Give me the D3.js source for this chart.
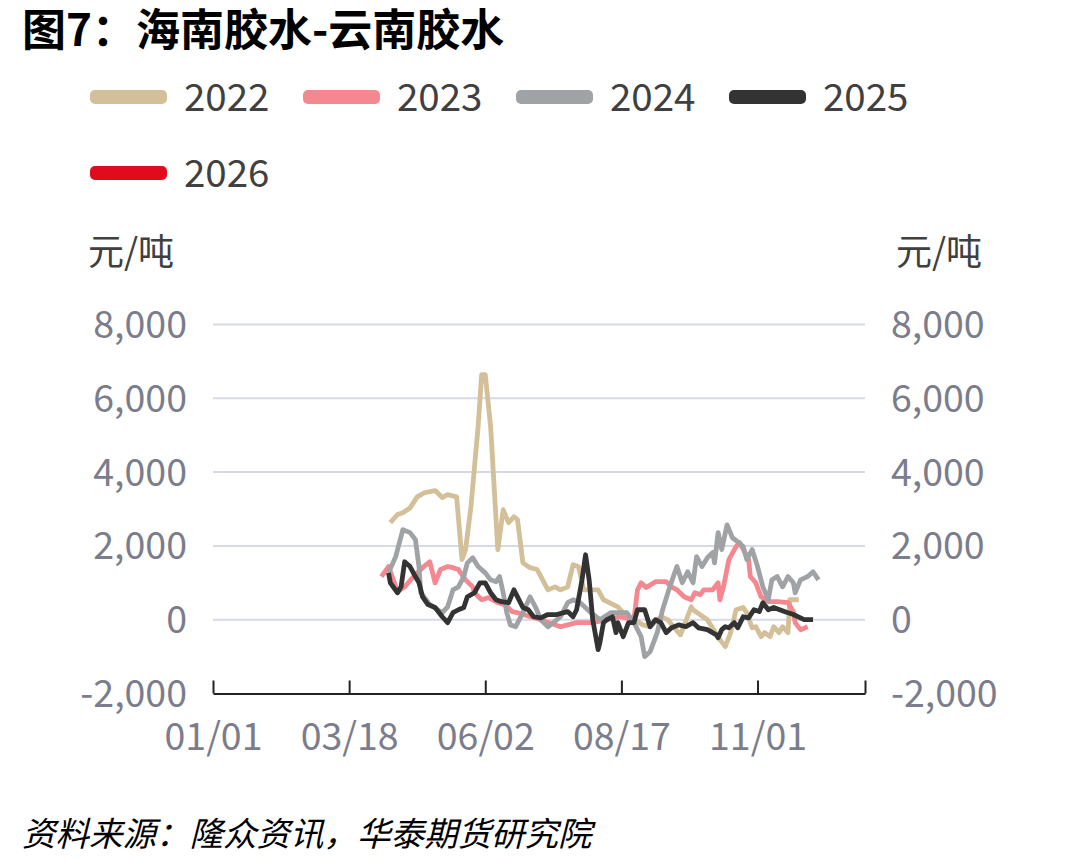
<!DOCTYPE html>
<html>
<head>
<meta charset="utf-8">
<script src="https://cdn.jsdelivr.net/npm/d3@7"></script>
<style>
  body { margin: 0; background: #fff; }
  text { font-family: "Noto Sans CJK SC", "Noto Sans", sans-serif; }
</style>
</head>
<body>
<svg id="chart" width="1078" height="866"></svg>
<script>
var years = ["2022", "2023", "2024", "2025", "2026"];
var colors = ["#d3bf98", "#f4878f", "#a0a3a6", "#333333", "#e00b1c"];
var xTicks = ["01/01", "03/18", "06/02", "08/17", "11/01"];
var yTicks = [-2000, 0, 2000, 4000, 6000, 8000];

/* 海南胶水-云南胶水 价差, 元/吨 */
var dates2022 = ["04/10","04/14","04/17","04/21","04/25","04/29","05/05","05/09","05/12","05/17","05/20","05/22","05/25","05/29","05/31","06/02","06/05","06/09","06/12","06/15","06/18","06/20","06/23","06/27","07/01","07/07","07/11","07/14","07/18","07/21","07/24","07/27","08/04","08/07","08/15","08/18","08/24","08/29","09/02","09/08","09/12","09/15","09/19","09/25","09/26","10/04","10/11","10/14","10/17","10/20","10/24","10/26","10/29","10/31","11/03","11/05","11/08","11/10","11/13","11/15","11/18","11/19","11/24"];
var vals2022 = [2630,2850,2900,3030,3330,3440,3500,3310,3390,3330,1630,1900,3060,5230,6640,6640,5230,1900,2980,2630,2790,2710,1540,1410,1360,810,890,810,890,1490,1440,810,810,540,350,190,0,-140,-190,80,0,-190,-410,350,270,0,-540,-730,-350,270,330,190,-220,-190,-460,-350,-460,-190,-350,-190,-350,540,540];

var dates2023 = ["04/05","04/09","04/14","04/18","04/23","04/28","05/02","05/05","05/08","05/12","05/15","05/18","05/22","05/26","05/27","05/31","06/04","06/09","06/13","06/17","06/20","07/03","07/14","07/18","07/23","08/01","08/09","08/16","08/24","08/26","08/28","08/31","09/05","09/11","09/14","09/17","09/21","09/25","09/27","09/30","10/02","10/07","10/10","10/11","10/13","10/16","10/20","10/22","10/25","10/27","10/28","10/31","11/03","11/07","11/12","11/18","11/21","11/22","11/25","11/29"];
var vals2023 = [1170,1440,760,890,1170,1410,1570,1000,1360,1440,1410,1360,1080,890,730,540,600,460,410,220,190,0,-190,-140,-80,-80,0,80,0,810,1000,870,1030,1030,890,810,620,540,730,680,810,810,1000,540,890,1630,1980,2090,1820,1630,1170,1000,620,490,490,460,220,-80,-270,-190];

var dates2024 = ["04/09","04/13","04/17","04/21","04/24","04/26","04/27","05/02","05/09","05/12","05/15","05/18","05/21","05/23","05/26","05/29","06/02","06/05","06/08","06/10","06/12","06/14","06/16","06/19","06/23","06/27","06/30","07/03","07/07","07/10","07/14","07/18","07/21","07/25","07/31","08/05","08/11","08/20","08/24","08/28","08/30","09/02","09/06","09/09","09/13","09/17","09/20","09/23","09/26","09/28","10/01","10/04","10/07","10/08","10/10","10/12","10/15","10/18","10/21","10/24","10/26","10/29","11/01","11/04","11/07","11/09","11/12","11/15","11/18","11/21","11/22","11/25","11/29","12/02","12/05"];
var vals2024 = [1270,1710,2440,2360,2170,1440,730,410,190,350,810,890,1170,1540,1680,1440,1270,1080,1030,1170,730,190,-140,-190,190,620,350,0,-190,-80,80,460,540,460,190,0,190,190,-80,-460,-1000,-870,-350,270,890,1440,1000,1300,1000,1710,1440,1680,1820,1540,2360,1900,2570,2220,2110,1980,1630,1900,1440,890,540,1080,1170,890,1170,1000,730,1080,1170,1300,1080];

var dates2025 = ["04/09","04/10","04/14","04/16","04/18","04/21","04/24","04/26","04/28","05/01","05/05","05/09","05/12","05/15","05/18","05/21","05/23","05/27","05/30","06/02","06/05","06/08","06/11","06/15","06/18","06/20","06/23","06/26","06/29","07/03","07/07","07/12","07/18","07/21","07/23","07/26","07/28","07/30","08/01","08/04","08/05","08/07","08/09","08/12","08/14","08/15","08/18","08/21","08/24","08/26","08/30","09/02","09/05","09/08","09/11","09/14","09/18","09/22","09/26","09/29","10/04","10/09","10/10","10/12","10/14","10/16","10/19","10/21","10/24","10/27","10/30","11/02","11/04","11/07","11/10","11/16","11/21","11/27","12/02"];
var vals2025 = [1270,1000,730,890,1570,1440,1170,1000,620,410,330,80,-80,190,270,330,620,730,1000,1000,730,540,490,460,810,620,330,270,80,50,140,140,220,80,270,1080,1760,1080,0,-810,-620,-80,0,80,-350,-80,-460,-80,-80,270,270,-190,0,-80,-350,-220,-140,-190,-80,-220,-270,-410,-490,-270,-190,-220,-80,-220,80,50,270,220,460,270,330,220,140,0,0];

var dates2026 = [];
var vals2026 = [];

var seriesDates = [dates2022, dates2023, dates2024, dates2025, dates2026];
var seriesVals = [vals2022, vals2023, vals2024, vals2025, vals2026];

var parseMD = d3.timeParse("%m/%d");
var svg = d3.select("#chart");

var xScale = d3.scaleTime()
  .domain([parseMD("01/01"), parseMD("12/31")])
  .range([213, 865]);
var yScale = d3.scaleLinear()
  .domain([-2000, 8000])
  .range([693.5, 324.5]);

/* title */
svg.append("text")
  .attr("x", 22).attr("y", 46)
  .attr("font-size", 44).attr("font-weight", "bold").attr("fill", "#000")
  .text("图7：海南胶水-云南胶水");

/* legend */
var legend = svg.append("g");
years.forEach(function (y, i) {
  var col = i % 4, row = Math.floor(i / 4);
  var g = legend.append("g")
    .attr("transform", "translate(" + (90 + col * 213) + "," + (97 + row * 76) + ")");
  g.append("rect")
    .attr("x", 0).attr("y", -7).attr("width", 77).attr("height", 14)
    .attr("rx", 5).attr("fill", colors[i]);
  g.append("text")
    .attr("x", 94).attr("y", 0).attr("dy", "0.36em")
    .attr("font-size", 38.5).attr("fill", "#404040")
    .text(y);
});

/* units */
svg.append("text").attr("x", 88).attr("y", 252).attr("dy", "0.36em")
  .attr("font-size", 36).attr("fill", "#404040").text("元/吨");
svg.append("text").attr("x", 896).attr("y", 252).attr("dy", "0.36em")
  .attr("font-size", 36).attr("fill", "#404040").text("元/吨");

/* grid */
svg.append("g").selectAll("line")
  .data(yTicks.filter(function (d) { return d > -2000; }))
  .join("line")
  .attr("x1", 213).attr("x2", 865)
  .attr("y1", function (d) { return yScale(d); })
  .attr("y2", function (d) { return yScale(d); })
  .attr("stroke", "#d6d9e6").attr("stroke-width", 2);

/* y labels both sides */
var fmt = function (d) { return d3.format(",")(d).replace("\u2212", "-"); };
svg.append("g").selectAll("text")
  .data(yTicks).join("text")
  .attr("x", 187).attr("y", function (d) { return yScale(d); })
  .attr("dy", "0.36em").attr("text-anchor", "end")
  .attr("font-size", 37.5).attr("fill", "#7b7d8c")
  .text(fmt);
svg.append("g").selectAll("text")
  .data(yTicks).join("text")
  .attr("x", 891).attr("y", function (d) { return yScale(d); })
  .attr("dy", "0.36em").attr("text-anchor", "start")
  .attr("font-size", 37.5).attr("fill", "#7b7d8c")
  .text(fmt);

/* x axis */
var xAxis = d3.axisBottom(xScale)
  .tickValues(xTicks.map(parseMD).concat([parseMD("12/31")]))
  .tickSize(-13).tickSizeOuter(0)
  .tickFormat(function (d, i) { return i < xTicks.length ? xTicks[i] : ""; });
var gx = svg.append("g")
  .attr("transform", "translate(0," + yScale(-2000) + ")")
  .call(xAxis);
gx.select(".domain").attr("stroke", "#222").attr("stroke-width", 2);
gx.selectAll(".tick line").attr("stroke", "#222").attr("stroke-width", 2);
gx.selectAll(".tick text")
  .attr("y", 43).attr("dy", "0.36em")
  .attr("font-size", 37.5).attr("fill", "#7b7d8c")
  .attr("font-family", "\"Noto Sans CJK SC\", sans-serif");

/* lines */
var line = d3.line()
  .x(function (d) { return xScale(d.date); })
  .y(function (d) { return yScale(d.value); });

years.forEach(function (y, i) {
  var pts = seriesDates[i].map(function (d, j) {
    return { date: parseMD(d), value: seriesVals[i][j] };
  });
  if (!pts.length) return;
  svg.append("path")
    .datum(pts)
    .attr("d", line)
    .attr("fill", "none")
    .attr("stroke", colors[i])
    .attr("stroke-width", 4.8)
    .attr("stroke-linejoin", "round");
});

/* source */
svg.append("text")
  .attr("x", 22).attr("y", 846)
  .attr("font-size", 33.5).attr("font-style", "italic").attr("fill", "#000")
  .text("资料来源：隆众资讯，华泰期货研究院");
</script>
</body>
</html>
